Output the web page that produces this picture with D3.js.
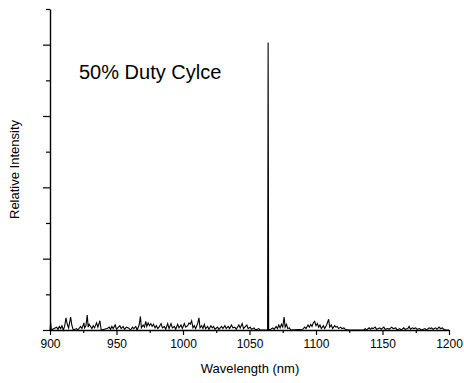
<!DOCTYPE html>
<html>
<head>
<meta charset="utf-8">
<script src="https://cdn.jsdelivr.net/npm/d3@7"></script>
<style>
  body { margin: 0; background: #fff; }
  text { font-family: Arial, "Liberation Sans", sans-serif; fill: #000; }
</style>
</head>
<body>
<svg id="chart" width="464" height="383"></svg>
<script>
// spectrum (wavelength in nm, intensity in axis units)
const wavelengths = [
  900, 900.5, 901, 903, 905, 906, 907, 908, 909, 910,
  911, 912, 913, 914, 915.5, 916.5, 917.5, 920, 921,
  923, 924, 925.5, 926, 927, 928, 928.7, 929.5, 930.5, 931.5, 932.5, 933.5, 935, 936, 937.5, 938.5,
  943, 944.5, 945.5, 946.5, 947.5, 949, 950, 951.5, 952.5, 953.5, 955, 956, 957.5, 959, 960.5, 962, 963, 964.5, 965.5,
  967, 968, 968.7, 970, 971, 972, 972.8, 973.8, 974.8, 975.8, 976.8, 977.8, 979, 980, 981, 982, 983.5, 984.5,
  986, 987, 988.5, 989.5, 991, 992, 993.5, 994.5, 996, 997, 998.5, 999.5, 1001, 1002, 1003.5, 1004.5, 1005.5,
  1006.5, 1007.5, 1008.5, 1009.5, 1011, 1012, 1012.8, 1014, 1015, 1016, 1017, 1018.5, 1019.5, 1021, 1022, 1023, 1024,
  1026, 1027, 1029, 1030, 1031.5, 1032.5, 1034, 1035, 1036.5, 1037.5, 1039, 1040, 1042, 1043, 1044.5, 1045.5,
  1047, 1048, 1049, 1050.5, 1051.5, 1053.5, 1054.5, 1057, 1058, 1063.6, 1064, 1064.4,
  1066, 1067.5, 1068.5, 1070, 1071, 1072, 1073, 1074, 1075, 1076, 1076.8, 1077.8, 1078.8, 1080, 1081,
  1090, 1091.5, 1092.5, 1094, 1095, 1096, 1097, 1098, 1099, 1100, 1101, 1102, 1103, 1104, 1105.5, 1106.5,
  1108, 1109.5, 1110.3, 1111.5, 1112.5, 1114, 1115, 1116, 1117, 1118.5, 1119.5, 1121, 1122, 1124,
  1136, 1137, 1138, 1140, 1141, 1142, 1143, 1144.5, 1145.5, 1147, 1148, 1149, 1151, 1152, 1154, 1155, 1157, 1158,
  1160, 1161, 1163, 1164, 1166, 1167, 1169, 1170, 1171, 1172.5, 1173.5, 1175, 1176, 1178, 1179, 1182, 1183,
  1185, 1186, 1187, 1188, 1190, 1191, 1192.5, 1193.5, 1195, 1196, 1197.5, 1200
];
const intensities = [
  0, 0.10, 0, 0.02, 0.04, 0.01, 0.05, 0.02, 0.06, 0,
  0.05, 0.17, 0.08, 0.03, 0.18, 0.06, 0, 0.02, 0,
  0.05, 0.02, 0.10, 0.03, 0.06, 0.21, 0.04, 0.08, 0.05, 0.02, 0.06, 0.03, 0.10, 0.04, 0.13, 0,
  0.02, 0.04, 0.01, 0.05, 0.02, 0.07, 0.01, 0.04, 0.06, 0.02, 0.05, 0.01, 0.04, 0.03, 0, 0.04, 0.02, 0.05, 0,
  0.07, 0.19, 0.03, 0.07, 0.04, 0.12, 0.05, 0.10, 0.06, 0.09, 0.05, 0.08, 0.03, 0.06, 0.02, 0.04, 0.09, 0.03,
  0.05, 0.01, 0.09, 0.02, 0.09, 0.03, 0.05, 0.01, 0.08, 0.03, 0.07, 0.02, 0.09, 0.04, 0.06, 0.10, 0.08,
  0.13, 0.03, 0.06, 0.02, 0.09, 0.17, 0.03, 0.06, 0.02, 0.08, 0.02, 0.05, 0.01, 0.06, 0.03, 0.05, 0.01,
  0.04, 0.01, 0.05, 0.02, 0.06, 0.02, 0.05, 0.02, 0.07, 0.03, 0.04, 0.01, 0.07, 0.03, 0.09, 0.02,
  0.05, 0.07, 0.02, 0.04, 0.01, 0.03, 0, 0.02, 0, 0, 4.03, 0,
  0.01, 0.03, 0.01, 0.05, 0.02, 0.07, 0.03, 0.08, 0.04, 0.18, 0.04, 0.08, 0.02, 0.03, 0,
  0.01, 0.04, 0.02, 0.07, 0.04, 0.08, 0.05, 0.10, 0.12, 0.06, 0.09, 0.04, 0.07, 0.02, 0.06, 0.02,
  0.07, 0.15, 0.04, 0.07, 0.02, 0.06, 0.04, 0.05, 0.02, 0.04, 0.02, 0.03, 0.01, 0,
  0, 0.02, 0, 0.03, 0.01, 0.03, 0.02, 0.04, 0.01, 0.02, 0.03, 0.01, 0.04, 0.01, 0.02, 0.01, 0.04, 0.02,
  0.03, 0, 0.02, 0, 0.03, 0.01, 0.02, 0.05, 0.01, 0.03, 0.02, 0.03, 0.01, 0.02, 0, 0.02, 0,
  0.03, 0.02, 0.03, 0.01, 0.03, 0.01, 0.04, 0.02, 0.03, 0.01, 0, 0
];
const xTicks = [900, 950, 1000, 1050, 1100, 1150, 1200];
const xMinorTicks = [925, 975, 1025, 1075, 1125, 1175];
const yTicks = [0, 1, 2, 3, 4];
const yMinorTicks = [0.5, 1.5, 2.5, 3.5, 4.5];

const svg = d3.select("#chart");
const margin = { left: 50, right: 15, top: 9, bottom: 53 };
const width = 464 - margin.left - margin.right;
const height = 383 - margin.top - margin.bottom;

const x = d3.scaleLinear().domain([900, 1200]).range([0, width]);
const y = d3.scaleLinear().domain([0, 4.5]).range([height, 0]);

const g = svg.append("g").attr("transform", `translate(${margin.left},${margin.top})`);

// minor ticks first, majors on top
g.append("g")
  .attr("transform", `translate(0,${height})`)
  .call(d3.axisBottom(x).tickValues(xMinorTicks).tickSize(3).tickFormat(""))
  .call(a => a.select(".domain").remove());
g.append("g")
  .attr("class", "x-axis")
  .attr("transform", `translate(0,${height})`)
  .call(d3.axisBottom(x).tickValues(xTicks).tickSize(5).tickSizeOuter(0).tickPadding(4).tickFormat(d3.format("d")));

g.append("g")
  .call(d3.axisLeft(y).tickValues(yMinorTicks).tickSize(4).tickFormat(""))
  .call(a => a.select(".domain").remove());
g.append("g")
  .call(d3.axisLeft(y).tickValues(yTicks).tickSize(7).tickSizeOuter(0).tickFormat(""));

g.selectAll(".domain").attr("stroke-width", 1.4);
g.selectAll(".tick line").attr("stroke-width", 1.2);
g.selectAll(".x-axis text")
  .style("font-size", "12px")
  .style("font-family", "Arial, 'Liberation Sans', sans-serif");

// spectrum trace
const points = wavelengths.map((w, i) => [w, intensities[i]]);
g.append("path")
  .datum(points)
  .attr("fill", "none")
  .attr("stroke", "#000")
  .attr("stroke-width", 1.1)
  .attr("d", d3.line().x(d => x(d[0])).y(d => y(d[1])));

// labels
g.append("text")
  .attr("x", 29)
  .attr("y", 70)
  .style("font-size", "20px")
  .text("50% Duty Cylce");

svg.append("text")
  .attr("x", 250)
  .attr("y", 373)
  .attr("text-anchor", "middle")
  .style("font-size", "13px")
  .text("Wavelength (nm)");

svg.append("text")
  .attr("transform", `translate(19,${margin.top + height / 2}) rotate(-90)`)
  .attr("text-anchor", "middle")
  .style("font-size", "13px")
  .text("Relative Intensity");
</script>
</body>
</html>
